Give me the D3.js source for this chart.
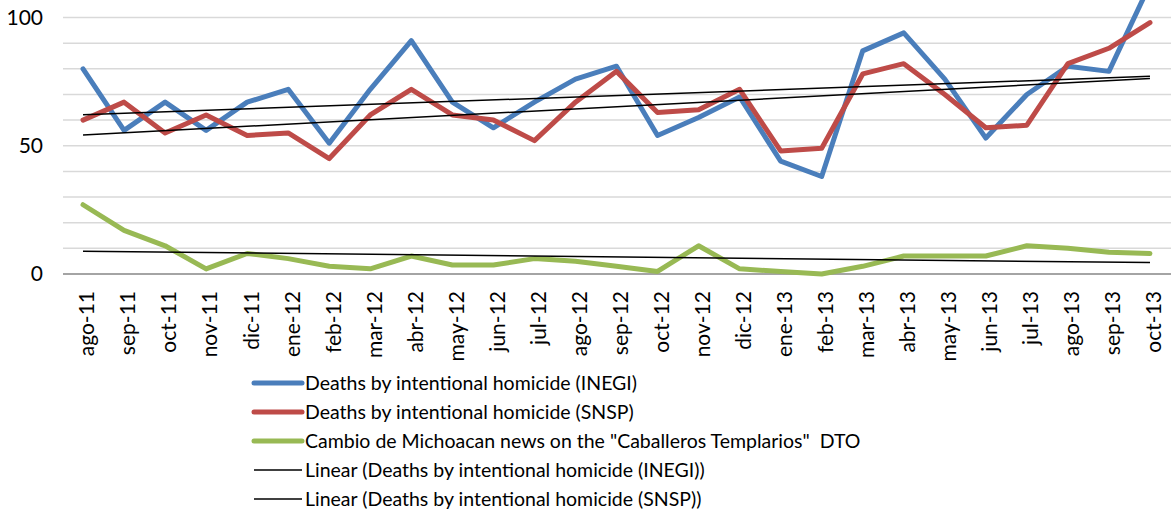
<!DOCTYPE html>
<html>
<head>
<meta charset="utf-8">
<script src="https://cdn.jsdelivr.net/npm/d3@7"></script>
<style>
  html, body { margin: 0; padding: 0; background: #fff; }
  svg { display: block; }
  text { font-family: Lato, "Open Sans", sans-serif; fill: #000; }
</style>
</head>
<body>
<svg id="chart" width="1171" height="516"></svg>
<script>
// Monthly categories, Aug 2011 – Oct 2013
const months = ["ago-11","sep-11","oct-11","nov-11","dic-11","ene-12","feb-12","mar-12","abr-12",
  "may-12","jun-12","jul-12","ago-12","sep-12","oct-12","nov-12","dic-12","ene-13","feb-13",
  "mar-13","abr-13","may-13","jun-13","jul-13","ago-13","sep-13","oct-13"];

// Deaths by intentional homicide (INEGI)
const inegi = [80,56,67,56,67,72,51,72,91,67,57,67,76,81,54,61,69,44,38,87,94,76,53,70,81,79,113];
// Deaths by intentional homicide (SNSP)
const snsp = [60,67,55,62,54,55,45,62,72,62,60,52,67,79,63,64,72,48,49,78,82,70,57,58,82,88,98];
// Cambio de Michoacan news on the "Caballeros Templarios" DTO
const news = [27,17,11,2,8,6,3,2,7,3.5,3.5,6,5,3,1,11,2,1,0,3,7,7,7,11,10,8.5,8];

const yTicks = [0, 50, 100];
const yGrid = d3.range(0, 101, 10);

const legendLabels = [
  "Deaths by intentional homicide (INEGI)",
  "Deaths by intentional homicide (SNSP)",
  "Cambio de Michoacan news on the \"Caballeros Templarios\"  DTO",
  "Linear (Deaths by intentional homicide (INEGI))",
  "Linear (Deaths by intentional homicide (SNSP))"
];

const colors = { inegi: "#4a7ebb", snsp: "#be4b48", news: "#98b954", trend: "#000" };

const svg = d3.select("#chart");

const x = d3.scaleBand().domain(months).range([62.5, 1170.5]);
const y = d3.scaleLinear().domain([0, 100]).range([274, 17.5]);
const cx = m => x(m) + x.bandwidth() / 2;

// Horizontal gridlines
svg.append("g").selectAll("line").data(yGrid.filter(v => v > 0)).join("line")
  .attr("x1", 63).attr("x2", 1171)
  .attr("y1", d => y(d)).attr("y2", d => y(d))
  .attr("stroke", "#d9d9d9").attr("stroke-width", 1.5);

// Y axis labels
const yAxis = svg.append("g").attr("transform", "translate(43,0)")
  .call(d3.axisLeft(y).tickValues(yTicks).tickSize(0).tickPadding(0).tickFormat(d3.format("d")));
yAxis.select(".domain").remove();
yAxis.selectAll("text").attr("font-size", 21).attr("font-family", "Lato, sans-serif").attr("fill", "#000");

// Category axis along zero
const xAxis = svg.append("g").attr("transform", `translate(0,${y(0)})`)
  .call(d3.axisBottom(x).tickSize(0).tickPadding(0));
xAxis.select(".domain").attr("stroke", "#868686").attr("stroke-width", 1.6)
  .attr("d", `M63,0H1171`);
xAxis.selectAll(".tick text")
  .attr("font-size", 21).attr("font-family", "Lato, sans-serif").attr("fill", "#000")
  .attr("text-anchor", "end")
  .attr("transform", "translate(4,17) rotate(-90)")
  .attr("x", 0).attr("y", 0).attr("dy", "0.35em");

// Series lines
const line = d3.line().x((d, i) => cx(months[i])).y(d => y(d));
const series = [
  { values: inegi, color: colors.inegi },
  { values: snsp, color: colors.snsp },
  { values: news, color: colors.news }
];
svg.append("g").selectAll("path").data(series).join("path")
  .attr("d", d => line(d.values))
  .attr("fill", "none").attr("stroke", d => d.color)
  .attr("stroke-width", 5).attr("stroke-linejoin", "round").attr("stroke-linecap", "round");

// Least-squares linear trend over the month index
function trend(values) {
  const n = values.length, xs = d3.range(n);
  const mx = d3.mean(xs), my = d3.mean(values);
  const b = d3.sum(xs, i => (i - mx) * (values[i] - my)) / d3.sum(xs, i => (i - mx) ** 2);
  const a = my - b * mx;
  return [a, a + b * (n - 1)];
}
const trends = [trend(inegi), trend(snsp), trend(news)];
svg.append("g").selectAll("line").data(trends).join("line")
  .attr("x1", cx(months[0])).attr("x2", cx(months[months.length - 1]))
  .attr("y1", d => y(d[0])).attr("y2", d => y(d[1]))
  .attr("stroke", colors.trend).attr("stroke-width", 1.5);

// Legend
const legendColors = [colors.inegi, colors.snsp, colors.news, colors.trend, colors.trend];
const legendWidths = [5, 5, 5, 1.5, 1.5];
const lg = svg.append("g").selectAll("g").data(legendLabels).join("g")
  .attr("transform", (d, i) => `translate(0,${383 + i * 29})`);
lg.append("line")
  .attr("x1", 254).attr("x2", 302).attr("y1", 0).attr("y2", 0)
  .attr("stroke", (d, i) => legendColors[i])
  .attr("stroke-width", (d, i) => legendWidths[i])
  .attr("stroke-linecap", (d, i) => i < 3 ? "round" : "butt");
lg.append("text")
  .attr("x", 305).attr("y", 0).attr("dy", "0.35em")
  .attr("font-size", 19.5)
  .style("white-space", "pre")
  .text(d => d);
</script>
</body>
</html>
